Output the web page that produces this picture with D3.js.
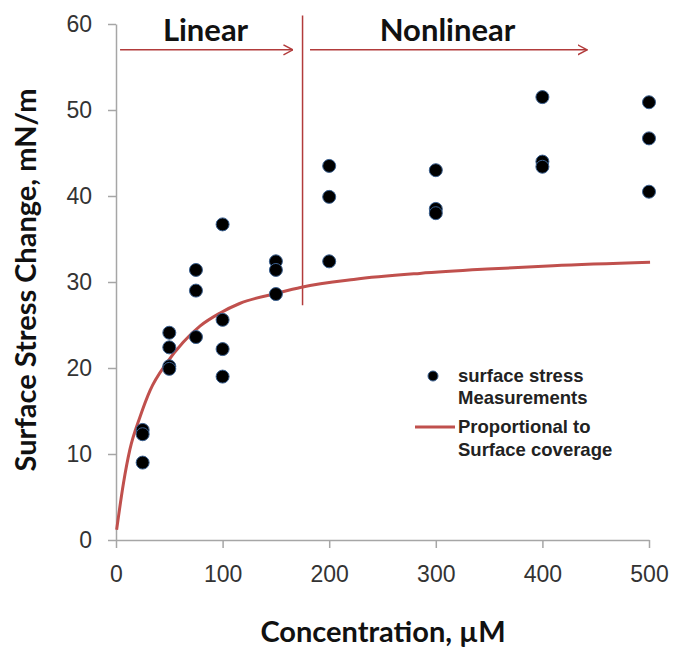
<!DOCTYPE html>
<html>
<head>
<meta charset="utf-8">
<script src="https://cdn.jsdelivr.net/npm/d3@7"></script>
<style>
  body { margin: 0; background: #fff; }
  svg { display: block; }
  .tick text { font-family: "Liberation Sans", Arial, sans-serif; font-size: 23px; fill: #333; }
  .axis-title { font-family: Lato, "Open Sans", sans-serif; font-weight: bold; font-size: 29px; fill: #111; }
  .region-label { font-family: Lato, "Open Sans", sans-serif; font-weight: bold; font-size: 31px; fill: #111; }
  .legend-text { font-family: "Liberation Sans", Arial, sans-serif; font-weight: bold; font-size: 18.5px; fill: #222; }
</style>
</head>
<body>
<div id="chart"></div>
<script>
// measured surface stress (concentration µM, mN/m)
const concentrations = [25, 25, 25, 50, 50, 50, 50, 75, 75, 75, 100, 100, 100, 100,
                        150, 150, 150, 200, 200, 200, 300, 300, 300, 400, 400, 400, 500, 500, 500];
const stressValues = [12.8, 12.3, 9.0, 24.1, 22.4, 20.2, 19.9, 31.4, 29.0, 23.6, 36.7, 25.6, 22.2, 19.0,
                      32.4, 31.4, 28.6, 43.5, 39.9, 32.4, 43.0, 38.5, 38.0, 51.5, 44.0, 43.4, 50.9, 46.7, 40.5];

// curve "proportional to surface coverage"
const curveX = [0.6, 7, 13, 22.5, 32, 47.6, 63, 79, 97.7, 116, 151, 174, 223, 285, 348, 410, 501];
const curveY = [1.2, 6.6, 10.5, 14.3, 17.4, 20.6, 23.0, 24.9, 26.4, 27.5, 28.7, 29.4, 30.3, 31.0, 31.5, 31.9, 32.3];

const xTicks = [0, 100, 200, 300, 400, 500];
const yTicks = [0, 10, 20, 30, 40, 50, 60];

const width = 674, height = 649;
const margin = { left: 116, right: 25, top: 24, bottom: 109 };
const red = '#c0504d';
const annoRed = '#b23b3b';

const svg = d3.select('#chart').append('svg')
    .attr('width', width)
    .attr('height', height);

const x = d3.scaleLinear().domain([0, 500]).range([margin.left, width - margin.right]);
const y = d3.scaleLinear().domain([0, 60]).range([height - margin.bottom, margin.top]);

// axes
const xAxis = svg.append('g')
    .attr('transform', `translate(0,${y(0)})`)
    .call(d3.axisBottom(x).tickValues(xTicks).tickSizeInner(8).tickSizeOuter(0).tickPadding(18));
const yAxis = svg.append('g')
    .attr('transform', `translate(${x(0)},0)`)
    .call(d3.axisLeft(y).tickValues(yTicks).tickSizeInner(8).tickSizeOuter(0).tickPadding(16));

[xAxis, yAxis].forEach(a => {
    a.select('.domain').attr('stroke', '#a6a6a6').attr('stroke-width', 1.5);
    a.selectAll('.tick line').attr('stroke', '#a6a6a6').attr('stroke-width', 1.5);
});

// divider between regions
const divideAt = 175;
svg.append('line')
    .attr('x1', x(divideAt)).attr('x2', x(divideAt))
    .attr('y1', y(61)).attr('y2', y(27.3))
    .attr('stroke', annoRed).attr('stroke-width', 1.5);

// arrow marker
svg.append('defs').append('marker')
    .attr('id', 'chev')
    .attr('viewBox', '0 -6 10 12')
    .attr('refX', 9.5).attr('refY', 0)
    .attr('markerWidth', 10).attr('markerHeight', 12)
    .attr('markerUnits', 'userSpaceOnUse')
    .attr('orient', 'auto')
    .append('path')
    .attr('d', 'M0,-5L9.5,0L0,5')
    .attr('fill', 'none')
    .attr('stroke', annoRed)
    .attr('stroke-width', 1.5);

const arrows = [
    { from: 3.8, to: 166, label: 'Linear', lx: 84 },
    { from: 182, to: 442, label: 'Nonlinear', lx: 311 }
];
const arrowY = 57;

svg.selectAll('.arrow').data(arrows).enter().append('line')
    .attr('class', 'arrow')
    .attr('x1', d => x(d.from)).attr('x2', d => x(d.to))
    .attr('y1', y(arrowY)).attr('y2', y(arrowY))
    .attr('stroke', annoRed).attr('stroke-width', 1.5)
    .attr('marker-end', 'url(#chev)');

svg.selectAll('.region-label').data(arrows).enter().append('text')
    .attr('class', 'region-label')
    .attr('x', d => x(d.lx))
    .attr('y', 41)
    .attr('text-anchor', 'middle')
    .text(d => d.label);

// curve
const curve = curveX.map((c, i) => [c, curveY[i]]);
svg.append('path')
    .datum(curve)
    .attr('fill', 'none')
    .attr('stroke', red)
    .attr('stroke-width', 3)
    .attr('d', d3.line().x(d => x(d[0])).y(d => y(d[1])).curve(d3.curveMonotoneX));

// points
svg.selectAll('.pt').data(concentrations).enter().append('circle')
    .attr('class', 'pt')
    .attr('cx', d => x(d))
    .attr('cy', (d, i) => y(stressValues[i]))
    .attr('r', 6.5)
    .attr('fill', '#000')
    .attr('stroke', '#3a6090')
    .attr('stroke-width', 1);

// legend
const legend = svg.append('g').attr('transform', 'translate(433,376)');
legend.append('circle').attr('r', 5).attr('fill', '#000').attr('stroke', '#3a6090').attr('stroke-width', 1);
legend.append('text').attr('class', 'legend-text').attr('x', 25).attr('y', 6).text('surface stress');
legend.append('text').attr('class', 'legend-text').attr('x', 25).attr('y', 28).text('Measurements');
legend.append('line').attr('x1', -18).attr('x2', 22).attr('y1', 51).attr('y2', 51)
    .attr('stroke', red).attr('stroke-width', 3);
legend.append('text').attr('class', 'legend-text').attr('x', 25).attr('y', 57).text('Proportional to');
legend.append('text').attr('class', 'legend-text').attr('x', 25).attr('y', 80).text('Surface coverage');

// axis titles
svg.append('text')
    .attr('class', 'axis-title')
    .attr('x', 383).attr('y', 642)
    .attr('text-anchor', 'middle')
    .text('Concentration, µM');

svg.append('text')
    .attr('class', 'axis-title')
    .attr('transform', 'translate(36,280) rotate(-90)')
    .attr('text-anchor', 'middle')
    .text('Surface Stress Change, mN/m');
</script>
</body>
</html>
